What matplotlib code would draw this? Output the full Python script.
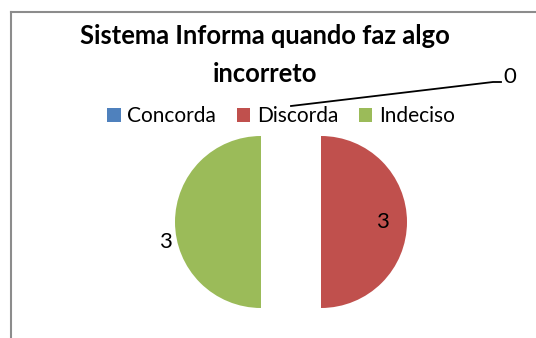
import numpy as np
import matplotlib
matplotlib.use('Agg')
import matplotlib.pyplot as plt
from matplotlib.lines import Line2D

categories = ['Concorda', 'Discorda', 'Indeciso']
values = [0, 3, 3]
colors = ['#4F81BD', '#C0504D', '#9BBB59']
title = 'Sistema Informa quando faz algo\nincorreto'

W, H = 536, 338
plt.rcParams['font.family'] = ['Lato', 'DejaVu Sans']

fig = plt.figure(figsize=(W / 100, H / 100), dpi=100)
ax = fig.add_axes([0, 0, 1, 1])

# pie in pixel-like coordinates (y up); explode is in the same units
cx, cy, r = 291, H - 222, 86
wedges, _ = ax.pie(values, colors=colors, startangle=90, counterclock=False,
                   explode=[30] * len(values), center=(cx, cy), radius=r,
                   wedgeprops=dict(linewidth=0))
ax.set_xlim(0, W)
ax.set_ylim(0, H)
ax.set_aspect('auto')
ax.axis('off')

# data labels: inside for the right slice, outside for the left one,
# leader line for the empty slice
label_dist = [1.0, 0.71, 1.14]
angle_shift = [0, 0, 12]
for w, v, d, s in zip(wedges, values, label_dist, angle_shift):
    mid = np.deg2rad((w.theta1 + w.theta2) / 2 + s)
    x0, y0 = w.center
    if v == 0:
        ex, ey = x0 + r * np.cos(mid), y0 + r * np.sin(mid)
        tx, ty = 501, H - 82
        ax.plot([ex, tx - 8, tx], [ey, ty, ty], color='black', lw=1.3)
        ax.text(tx + 2, ty + 5, f'{v}', fontsize=16, ha='left', va='center')
    else:
        ax.text(x0 + d * r * np.cos(mid), y0 + d * r * np.sin(mid), f'{v}',
                fontsize=16, ha='center', va='center')

fig.text(265 / W, 1 - 55 / H, title, fontsize=18.4, fontweight='bold',
         ha='center', va='center', linespacing=1.65)

fig.legend(wedges, categories, loc='center', bbox_to_anchor=(281 / W, 1 - 116 / H),
           ncol=3, frameon=False, fontsize=15, handlelength=0.65, handleheight=0.65,
           handletextpad=0.3, columnspacing=1.0, borderpad=0)

# chart area border (open to the right and bottom)
bc = '#8C8C8C'
fig.add_artist(Line2D([10.5 / W, 1], [1 - 11.5 / H] * 2, color=bc, lw=1.5,
                      transform=fig.transFigure))
fig.add_artist(Line2D([10.5 / W] * 2, [0, 1 - 11.5 / H], color=bc, lw=1.5,
                      transform=fig.transFigure))

fig.savefig('out.png', dpi=100)
